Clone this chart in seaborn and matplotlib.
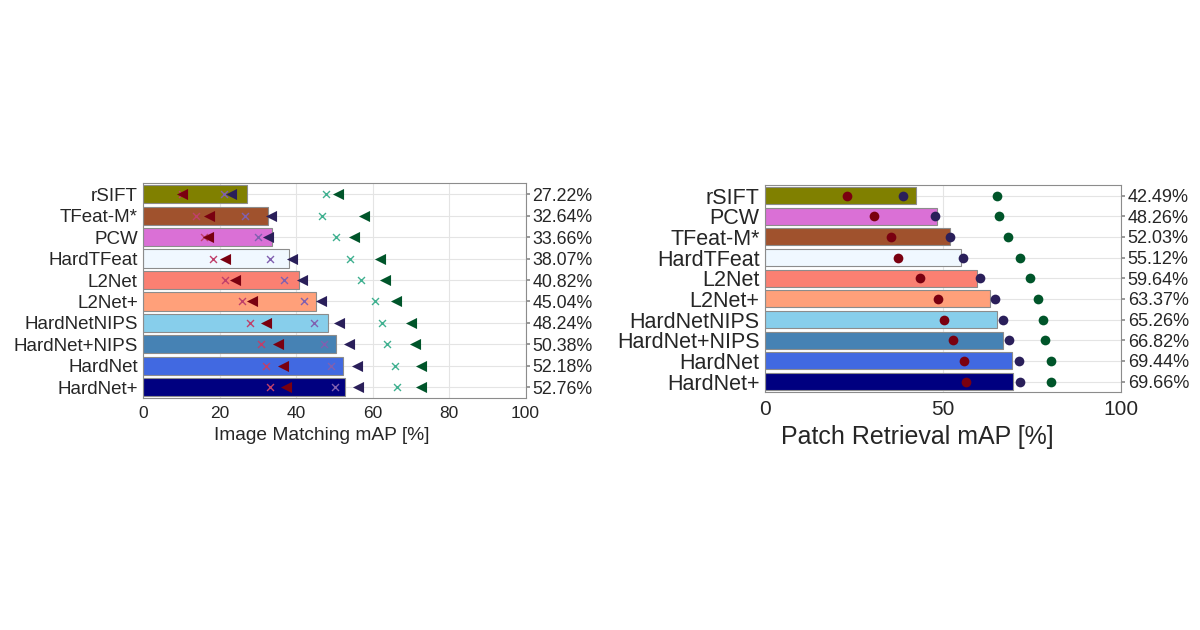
import numpy as np
import pandas as pd
import matplotlib
matplotlib.use('Agg')
import matplotlib.pyplot as plt
import seaborn as sns

sns.set_theme(style='whitegrid')
plt.rcParams['font.family'] = ['Liberation Sans', 'DejaVu Sans']
plt.rcParams['text.color'] = '#262626'

# ---- image matching (left) ----
im_names = ['rSIFT', 'TFeat-M*', 'PCW', 'HardTFeat', 'L2Net', 'L2Net+',
            'HardNetNIPS', 'HardNet+NIPS', 'HardNet', 'HardNet+']
im_map = [27.22, 32.64, 33.66, 38.07, 40.82, 45.04, 48.24, 50.38, 52.18, 52.76]
im_red_x = [10.1, 13.8, 15.8, 18.2, 21.3, 25.9, 28.0, 30.7, 32.2, 33.2]
im_red_tri = [10.1, 17.1, 16.9, 21.3, 23.9, 28.3, 32.2, 35.1, 36.6, 37.2]
im_pur_x = [21.1, 26.5, 30.0, 33.2, 36.8, 42.1, 44.6, 47.2, 49.2, 50.1]
im_pur_tri = [23.0, 33.5, 32.6, 38.9, 41.6, 46.5, 51.3, 53.8, 55.8, 56.1]
im_grn_x = [47.7, 46.6, 50.4, 54.1, 57.0, 60.6, 62.4, 63.7, 65.9, 66.3]
im_grn_tri = [51.0, 57.6, 55.2, 61.9, 63.3, 66.0, 70.0, 71.1, 72.7, 72.7]

# ---- patch retrieval (right) ----
pr_names = ['rSIFT', 'PCW', 'TFeat-M*', 'HardTFeat', 'L2Net', 'L2Net+',
            'HardNetNIPS', 'HardNet+NIPS', 'HardNet', 'HardNet+']
pr_map = [42.49, 48.26, 52.03, 55.12, 59.64, 63.37, 65.26, 66.82, 69.44, 69.66]
pr_red = [23.1, 30.7, 35.4, 37.4, 43.5, 48.5, 50.4, 52.7, 56.0, 56.4]
pr_pur = [38.7, 47.8, 52.0, 55.7, 60.4, 64.6, 66.9, 68.6, 71.4, 71.8]
pr_grn = [65.3, 65.8, 68.3, 71.8, 74.6, 76.6, 78.0, 78.7, 80.5, 80.5]

colors = {'rSIFT': '#808000', 'TFeat-M*': '#A0522D', 'PCW': '#DA70D6',
          'HardTFeat': '#F0F8FF', 'L2Net': '#FA8072', 'L2Net+': '#FFA07A',
          'HardNetNIPS': '#87CEEB', 'HardNet+NIPS': '#4682B4',
          'HardNet': '#4169E1', 'HardNet+': '#000080'}

red, pur, grn = '#7a0010', '#2a1f5a', '#00552a'
red_x, pur_x, grn_x = '#c0406a', '#8060b0', '#40b090'

fig = plt.figure(figsize=(12, 6.3), dpi=100)
ax1 = fig.add_axes([0.1195, 0.368, 0.3185, 0.341])
ax2 = fig.add_axes([0.6375, 0.378, 0.2965, 0.328])


def strip(ax, x, y, order, marker, color, size, lw=0):
    sns.stripplot(x=x, y=y, order=order, ax=ax, jitter=False, marker=marker,
                  color=color, size=size, linewidth=lw, edgecolor=color,
                  zorder=4)


def style(ax, names, vals, fs_left, fs_right, xlabel, fs_xlabel, fs_xtick,
          ticks, label_xy):
    ax.set_xlim(0, 100)
    ax.set_xticks(ticks)
    ax.set_xlabel(xlabel, fontsize=fs_xlabel, color='#262626')
    ax.xaxis.set_label_coords(*label_xy)
    ax.set_ylabel('')
    ax.grid(True, color='#e4e4e4', linewidth=0.8)
    ax.set_axisbelow(True)
    for s in ax.spines.values():
        s.set_visible(True)
        s.set_color('#8c8c8c')
        s.set_linewidth(0.8)
    ax.tick_params(axis='y', direction='in', length=3, color='#8c8c8c',
                   labelsize=fs_left, pad=4, left=True)
    ax.tick_params(axis='x', length=0, labelsize=fs_xtick, pad=6)
    tw = ax.twinx()
    tw.set_ylim(ax.get_ylim())
    tw.set_yticks(ax.get_yticks())
    tw.set_yticklabels(['{:.2f}%'.format(v) for v in vals])
    tw.tick_params(axis='y', direction='out', length=3, color='#8c8c8c',
                   labelsize=fs_right, pad=2)
    tw.grid(False)
    for s in tw.spines.values():
        s.set_visible(False)


# left panel
sns.barplot(x=im_map, y=im_names, hue=im_names, order=im_names,
            palette=colors, legend=False, ax=ax1, width=0.84,
            edgecolor='#8c8c8c', linewidth=0.8, saturation=1)
strip(ax1, im_red_x, im_names, im_names, 'x', red_x, 5, 1)
strip(ax1, im_pur_x, im_names, im_names, 'x', pur_x, 5, 1)
strip(ax1, im_grn_x, im_names, im_names, 'x', grn_x, 5, 1)
strip(ax1, im_red_tri, im_names, im_names, '<', red, 8)
strip(ax1, im_pur_tri, im_names, im_names, '<', pur, 8)
strip(ax1, im_grn_tri, im_names, im_names, '<', grn, 8)
style(ax1, im_names, im_map, 13.5, 12.8, 'Image Matching mAP [%]', 13.8, 12.5,
      [0, 20, 40, 60, 80, 100], (0.467, -0.135))

# right panel
sns.barplot(x=pr_map, y=pr_names, hue=pr_names, order=pr_names,
            palette=colors, legend=False, ax=ax2, width=0.82,
            edgecolor='#8c8c8c', linewidth=0.8, saturation=1)
strip(ax2, pr_red, pr_names, pr_names, 'o', red, 7)
strip(ax2, pr_pur, pr_names, pr_names, 'o', pur, 7)
strip(ax2, pr_grn, pr_names, pr_names, 'o', grn, 7)
style(ax2, pr_names, pr_map, 15.5, 13, 'Patch Retrieval mAP [%]', 18, 15,
      [0, 50, 100], (0.427, -0.16))

fig.savefig('out.png', dpi=100)
plt.close(fig)
